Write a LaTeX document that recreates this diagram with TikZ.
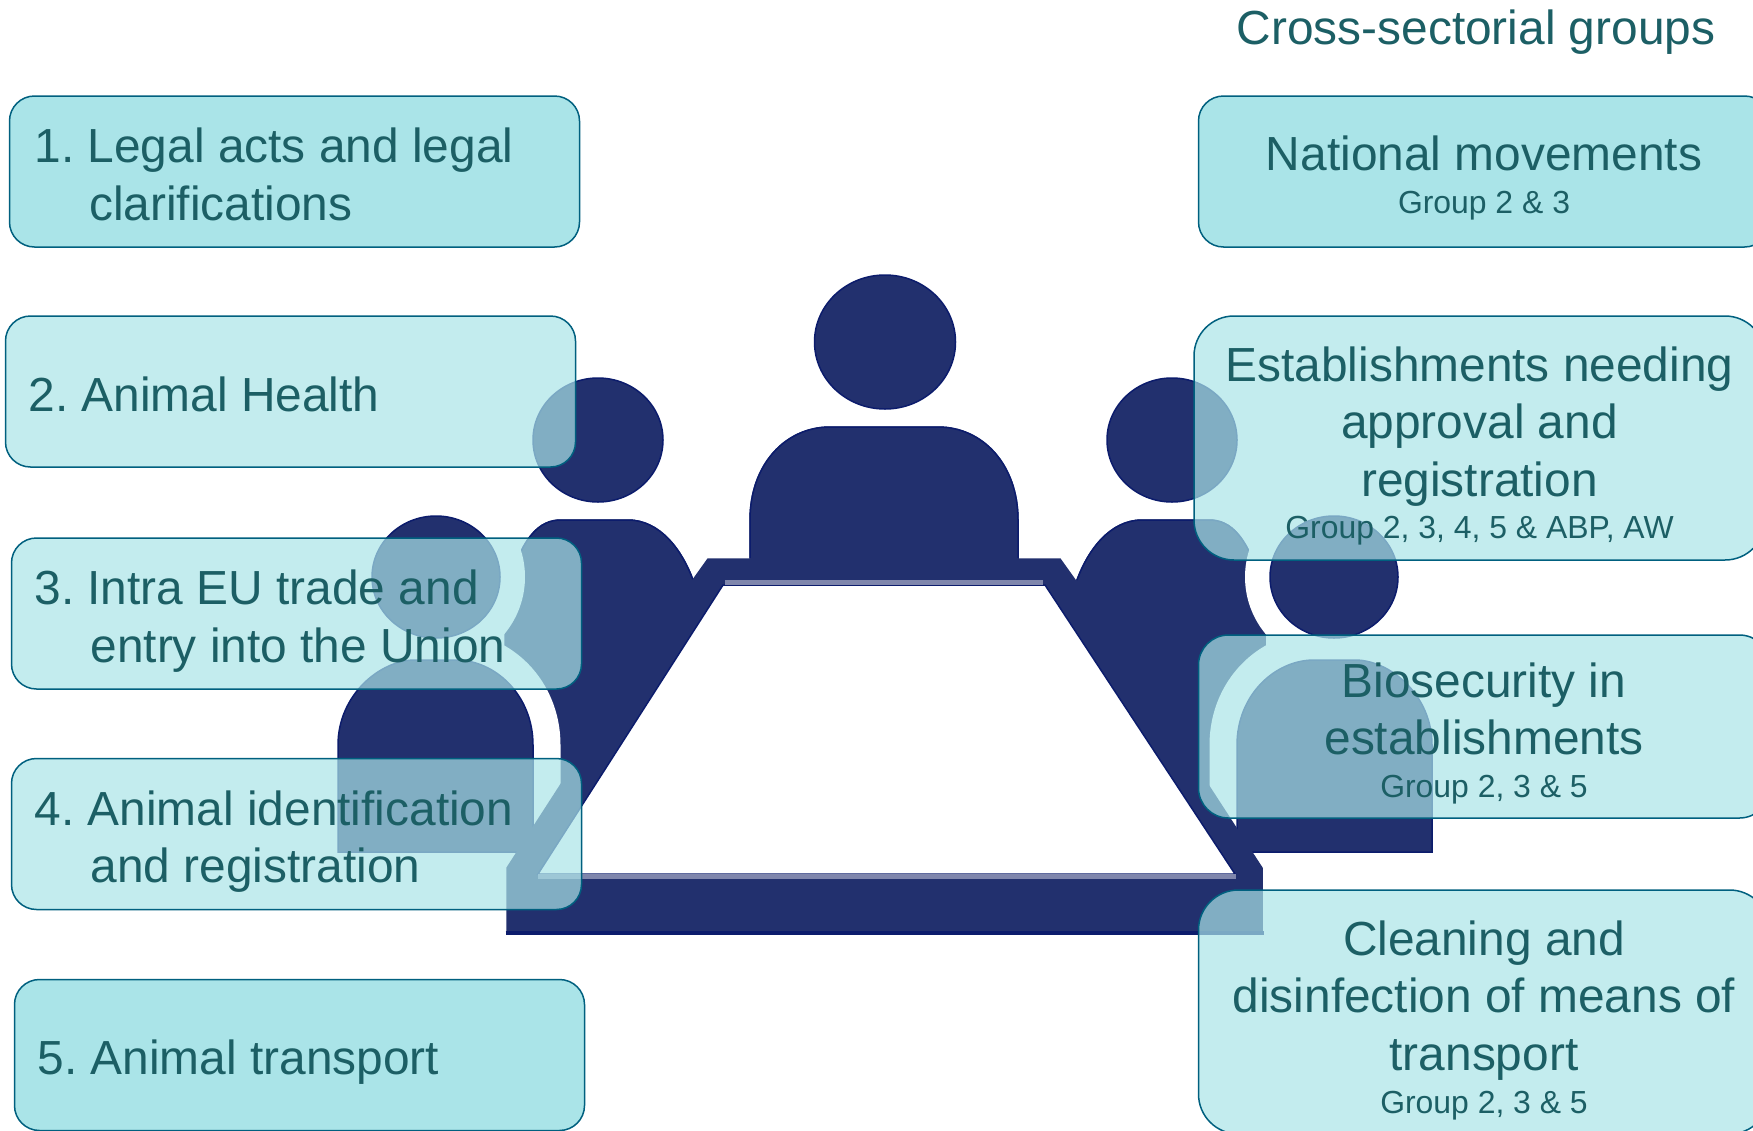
\documentclass[tikz,border=0pt]{standalone}
\usepackage{fontspec}
\setmainfont{Liberation Sans}
\definecolor{iconnavy}{HTML}{22306E}
\definecolor{iconedge}{HTML}{0C1C6C}
\definecolor{icongrey}{HTML}{7F86AC}
\definecolor{boxfill}{HTML}{AAE4E8}
\definecolor{boxline}{HTML}{00607F}
\definecolor{boxtext}{HTML}{1C5F65}
\newcommand{\sidepeople}{%
  % back person
  \fill[iconshape] (598,440) ellipse (65 and 62);
  \fill[iconflat] (693,580) .. controls (682,550) and (660,520) .. (628,520)
     -- (561,520) .. controls (540,520) and (520,535) .. (505,600)
     -- (505,868) -- (560,868) -- (720,600) -- cycle;
  \draw[iconedge,line width=1.5pt] (693,580) .. controls (682,550) and (660,520) .. (628,520)
     -- (561,520) .. controls (540,520) and (520,535) .. (505,600);
  % white halo of the front person
  \draw[halo,line width=52pt] (436,577) circle (63);
  \draw[halo] (338,852) -- (338,745) .. controls (338,695) and (380,660) .. (415,660)
     -- (456,660) .. controls (495,660) and (533,695) .. (533,745) -- (533,852) -- cycle;
  % front person
  \fill[iconshape] (436,577) ellipse (64 and 61);
  \fill[iconshape] (338,852) -- (338,745) .. controls (338,695) and (380,660) .. (415,660)
     -- (456,660) .. controls (495,660) and (533,695) .. (533,745) -- (533,852) -- cycle;
}
\newcommand{\grp}[1]{{\fontsize{31.9}{38}\selectfont #1}}
\newcommand{\topgap}[1]{\rule{0pt}{#1pt}}
\tikzset{
  iconshape/.style={fill=iconnavy,draw=iconedge,line width=1.5pt},
  iconflat/.style={fill=iconnavy,draw=iconnavy,line width=1.5pt},
  halo/.style={draw=white,line width=55pt,line join=round},
  basebox/.style={draw=boxline,line width=1.5pt,outer sep=0pt,text=boxtext,
    font=\frenchspacing\fontsize{47.85}{57.5}\selectfont,text opacity=1,draw opacity=1},
  solidbox/.style={basebox,fill=boxfill},
  glassbox/.style={basebox,fill=boxfill,fill opacity=.7},
  leftbox/.style={minimum width=570pt,minimum height=151pt,rounded corners=25pt,
    inner xsep=23pt,inner ysep=0pt,text width=524pt,align=flush left},
  rightbox/.style={minimum width=571pt,inner sep=0pt,align=center},
  title/.style={text=boxtext,font=\fontsize{47.85}{57.5}\selectfont,inner sep=0pt}
}
\begin{document}
\begin{tikzpicture}[x=1pt,y=-1pt]
\useasboundingbox (0,0) rectangle (1753,1130);
\clip (0,0) rectangle (1753,1130);
\fill[white] (0,0) rectangle (1753,1130);
% icon
\sidepeople
\begin{scope}[shift={(1770,0)},xscale=-1]
  \sidepeople
\end{scope}
\fill[iconshape] (885,342) ellipse (70.5 and 67);
\fill[iconflat] (750,565) -- (750,520) .. controls (750,465) and (785,427) .. (830,427)
   -- (938,427) .. controls (983,427) and (1018,465) .. (1018,520) -- (1018,565) -- cycle;
\draw[iconedge,line width=1.5pt] (750,558) -- (750,520) .. controls (750,465) and (785,427) .. (830,427)
   -- (938,427) .. controls (983,427) and (1018,465) .. (1018,520) -- (1018,558);
\fill[iconflat] (507,934) -- (507,868) -- (693,580) -- (708,559) -- (1060,559) -- (1075,580)
   -- (1262,868) -- (1262,934) -- cycle;
\draw[iconedge,line width=4pt] (505.5,932.5) -- (1263.5,932.5);
\fill[white,draw=iconedge,line width=1.5pt] (723,585) -- (1045,585) -- (1235,874) -- (538,874) -- cycle;
\draw[icongrey,line width=5pt] (725,582.5) -- (1043,582.5);
\draw[icongrey,line width=5pt] (538,876.5) -- (1236,876.5);
% left column
\node[solidbox,leftbox] (legal) at (294.5,171.5) {\topgap{40}\hspace*{2pt}1. Legal acts and legal\\\hspace*{56.6pt}clarifications};
\node[glassbox,leftbox] (health) at (290.5,391.5) {\topgap{40}2. Animal Health};
\node[glassbox,leftbox] (trade) at (296.5,613.5) {\topgap{50}3. Intra EU trade and\\\hspace*{56pt}entry into the Union};
\node[glassbox,leftbox] (ident) at (296.5,834) {\topgap{50}4. Animal identification\\\hspace*{56pt}and registration};
\node[solidbox,leftbox] (transport) at (299.5,1055) {\topgap{48}5. Animal transport};
% right column
\node[title] (head) at (1476,32) {Cross-sectorial groups};
\node[solidbox,rightbox,minimum height=151pt,rounded corners=25pt] (national) at (1484,171.5)
  {\topgap{48}National movements\\[-15pt]\grp{Group 2 \& 3}};
\node[glassbox,rightbox,minimum height=244pt,rounded corners=40pt] (approval) at (1479.5,438)
  {\topgap{51}Establishments needing\\approval and\\registration\\[-15pt]\grp{Group 2, 3, 4, 5 \& ABP, AW}};
\node[glassbox,rightbox,minimum height=183pt,rounded corners=30pt] (biosec) at (1484,726.5)
  {\topgap{48}Biosecurity in\\establishments\\[-15pt]\grp{Group 2, 3 \& 5}};
\node[glassbox,rightbox,minimum height=244pt,rounded corners=40pt] (clean) at (1484,1012)
  {\topgap{51}Cleaning and\\disinfection of means of\\transport\\[-14.5pt]\grp{Group 2, 3 \& 5}};
\end{tikzpicture}
\end{document}
